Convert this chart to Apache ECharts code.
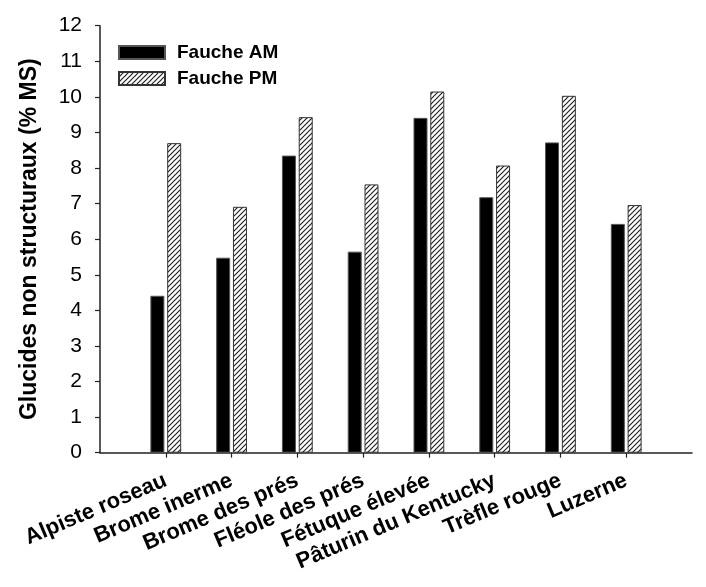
<!DOCTYPE html>
<html>
<head>
<meta charset="utf-8">
<script src="https://cdn.jsdelivr.net/npm/echarts@6/dist/echarts.min.js"></script>
<style>
html,body{margin:0;padding:0;background:#fff;}
#c{width:706px;height:587px;}
</style>
</head>
<body>
<div id="c"></div>
<script>
const categories = ['Alpiste roseau','Brome inerme','Brome des prés','Fléole des prés','Fétuque élevée','Pâturin du Kentucky','Trèfle rouge','Luzerne'];
const fauchePM_label = 'Fauche PM';
const faucheAM_label = 'Fauche AM';
const faucheAM = [4.41, 5.48, 8.35, 5.65, 9.41, 7.18, 8.72, 6.43];
const fauchePM = [8.70, 6.91, 9.43, 7.54, 10.15, 8.07, 10.03, 6.96];
const yTicks = [0,1,2,3,4,5,6,7,8,9,10,11,12];

// padded categories: empty slot at start and end
const axisCats = [''].concat(categories, ['']);
const amData = ['-'].concat(faucheAM, ['-']);
const pmData = ['-'].concat(fauchePM, ['-']);

function hatch(){
  const c = document.createElement('canvas');
  c.width = 5; c.height = 5;
  const ctx = c.getContext('2d');
  ctx.fillStyle = '#fff';
  ctx.fillRect(0,0,5,5);
  ctx.strokeStyle = '#222';
  ctx.lineWidth = 1.2;
  ctx.beginPath();
  ctx.moveTo(-1,6); ctx.lineTo(6,-1);
  ctx.moveTo(-1,1); ctx.lineTo(1,-1);
  ctx.moveTo(4,6); ctx.lineTo(6,4);
  ctx.stroke();
  return c;
}

const chart = echarts.init(document.getElementById('c'), null, {renderer:'canvas'});
const font = '"Liberation Sans", Arial, sans-serif';
chart.setOption({
  animation:false,
  backgroundColor:'#fff',
  textStyle:{fontFamily:font},
  grid:{left:100,right:14,top:25.7,bottom:134.3,containLabel:false},
  legend:{
    orient:'vertical', left:118, top:43, padding:0,
    itemWidth:46, itemHeight:13, itemGap:7,
    icon:'rect',
    textStyle:{fontFamily:font,fontWeight:'bold',fontSize:19,lineHeight:19,color:'#000',padding:[0,0,0,7]},
    data:[faucheAM_label, fauchePM_label]
  },
  xAxis:{
    type:'category',
    data:axisCats,
    boundaryGap:false,
    axisLine:{lineStyle:{color:'#222',width:1.5}},
    axisTick:{length:5,lineStyle:{color:'#222',width:1.2},interval:function(i,v){return v!=='';}},
    axisLabel:{interval:0,rotate:23,margin:27,fontFamily:font,fontWeight:'bold',fontSize:22,color:'#000'},
    splitLine:{show:false}
  },
  yAxis:{
    type:'value', min:yTicks[0], max:yTicks[yTicks.length-1], interval:1,
    name:'Glucides non structuraux (% MS)',
    nameLocation:'middle', nameGap:59,
    nameTextStyle:{fontFamily:font,fontWeight:'bold',fontSize:23,color:'#000'},
    axisLine:{show:true,lineStyle:{color:'#222',width:1.5}},
    axisTick:{show:true,length:5,lineStyle:{color:'#222',width:1.2}},
    axisLabel:{margin:18,fontFamily:font,fontSize:21,color:'#000'},
    splitLine:{show:false}
  },
  series:[
    {name:faucheAM_label,type:'bar',data:amData,barWidth:14,barGap:'20%',
     itemStyle:{color:'#000',borderColor:'#555',borderWidth:1}},
    {name:fauchePM_label,type:'bar',data:pmData,barWidth:14,barGap:'20%',
     itemStyle:{color:{image:hatch(),repeat:'repeat'},borderColor:'#333',borderWidth:1}}
  ]
});
</script>
</body>
</html>
